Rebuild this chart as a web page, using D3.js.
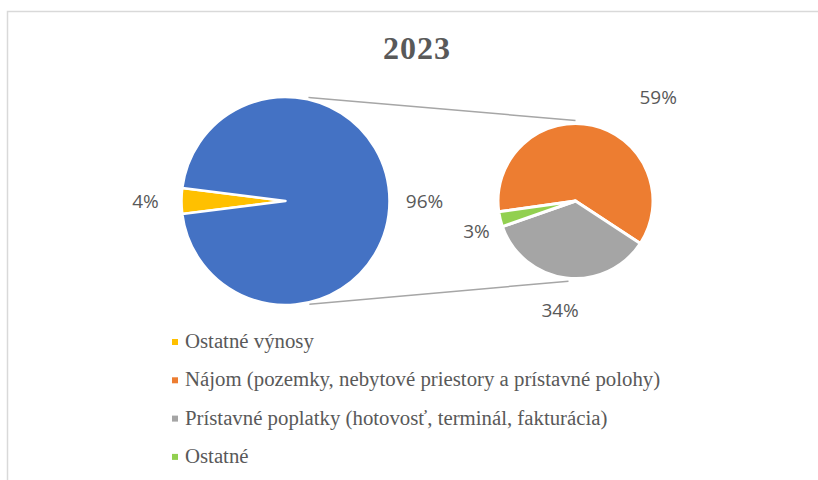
<!DOCTYPE html>
<html>
<head>
<meta charset="utf-8">
<script src="https://cdn.jsdelivr.net/npm/d3@7"></script>
<style>
  body { margin: 0; background: #ffffff; }
  svg { display: block; }
</style>
</head>
<body>
<svg id="chart" width="818" height="480"></svg>
<script>
// Main pie: "Ostatné výnosy" + the aggregated part split out into the second pie
const mainLabels = ["Ostatné výnosy", "Ostatné spolu"];
const mainValues = [4, 96];
const mainColors = ["#ffc000", "#4472c4"];

// Second pie (breakdown of the 96 %)
const subLabels = ["Nájom (pozemky, nebytové priestory a prístavné polohy)", "Prístavné poplatky (hotovosť, terminál, fakturácia)", "Ostatné"];
const subValues = [59, 34, 3];
const subColors = ["#ed7d31", "#a5a5a5", "#92d050"];

const legendLabels = [mainLabels[0]].concat(subLabels);
const legendColors = [mainColors[0]].concat(subColors);

const title = "2023";

const svg = d3.select("#chart");
const deg = Math.PI / 180;

// chart frame (right and bottom edges fall outside the picture)
svg.append("rect")
  .attr("x", 7.5).attr("y", 11.5)
  .attr("width", 840).attr("height", 500)
  .attr("fill", "#ffffff")
  .attr("stroke", "#d9d9d9")
  .attr("stroke-width", 1.5);

// Title
svg.append("text")
  .attr("x", 417)
  .attr("y", 59)
  .attr("text-anchor", "middle")
  .attr("font-family", "Liberation Serif, serif")
  .attr("font-weight", "bold")
  .attr("font-size", 32)
  .attr("letter-spacing", 1)
  .attr("fill", "#595959")
  .text(title);

const main = { cx: 285.5, cy: 201, r: 104 };
const sub = { cx: 575.5, cy: 201, r: 77.5 };

// yellow slice centred on the left side
const total = d3.sum(mainValues);
const mainStart = 270 * deg - (mainValues[0] / total) * Math.PI;
const mainPie = d3.pie().sort(null).value(d => d).startAngle(mainStart).endAngle(mainStart + 2 * Math.PI);
const subPie = d3.pie().sort(null).value(d => d).startAngle(-98 * deg).endAngle(262 * deg);

const mainArc = d3.arc().innerRadius(0).outerRadius(main.r);
const subArc = d3.arc().innerRadius(0).outerRadius(sub.r);

// point on a circle, angle measured clockwise from 12 o'clock
function onCircle(c, a, r) {
  return [c.cx + r * Math.sin(a), c.cy - r * Math.cos(a)];
}

// Connector lines between the two pies
const connectors = [
  [onCircle(main, 12.5 * deg, main.r + 2), onCircle(sub, 0, sub.r + 3)],
  [onCircle(main, 167 * deg, main.r + 2), onCircle(sub, 185 * deg, sub.r + 3)]
];
svg.selectAll(".connector")
  .data(connectors)
  .enter()
  .append("line")
  .attr("class", "connector")
  .attr("x1", d => d[0][0]).attr("y1", d => d[0][1])
  .attr("x2", d => d[1][0]).attr("y2", d => d[1][1])
  .attr("stroke", "#a6a6a6")
  .attr("stroke-width", 1.5);

const gMain = svg.append("g").attr("transform", `translate(${main.cx},${main.cy})`);
gMain.selectAll("path")
  .data(mainPie(mainValues))
  .enter()
  .append("path")
  .attr("d", mainArc)
  .attr("fill", (d, i) => mainColors[i])
  .attr("stroke", "#ffffff")
  .attr("stroke-width", 2.5)
  .attr("stroke-linejoin", "round");

const gSub = svg.append("g").attr("transform", `translate(${sub.cx},${sub.cy})`);
gSub.selectAll("path")
  .data(subPie(subValues))
  .enter()
  .append("path")
  .attr("d", subArc)
  .attr("fill", (d, i) => subColors[i])
  .attr("stroke", "#ffffff")
  .attr("stroke-width", 3)
  .attr("stroke-linejoin", "round");

// Data labels, placed outside the slices like Excel's best fit
const mainLabelPos = [[270, 36], [90, 35]];           // [angle deg, distance beyond radius]
const subLabelPos = [[38.6, 55], [188, 33], [253, 26]];

function addLabels(c, values, pos) {
  svg.append("g").selectAll("text")
    .data(values)
    .enter()
    .append("text")
    .attr("x", (d, i) => onCircle(c, pos[i][0] * deg, c.r + pos[i][1])[0])
    .attr("y", (d, i) => onCircle(c, pos[i][0] * deg, c.r + pos[i][1])[1])
    .attr("dy", "0.36em")
    .attr("text-anchor", "middle")
    .attr("font-family", "Open Sans, sans-serif")
    .attr("font-size", 19)
    .attr("fill", "#595959")
    .text(d => Math.round(d / total * 100) + "%");
}
addLabels(main, mainValues, mainLabelPos);
addLabels(sub, subValues, subLabelPos);

// Legend
const legend = svg.append("g").attr("transform", "translate(172, 342)");
const rowH = 38.3;
legend.selectAll("rect")
  .data(legendColors)
  .enter()
  .append("rect")
  .attr("x", 0)
  .attr("y", (d, i) => i * rowH - 3)
  .attr("width", 6)
  .attr("height", 6)
  .attr("fill", d => d);
legend.selectAll("text")
  .data(legendLabels)
  .enter()
  .append("text")
  .attr("x", 13)
  .attr("y", (d, i) => i * rowH + 6)
  .attr("font-family", "Liberation Serif, serif")
  .attr("font-size", 20.8)
  .attr("fill", "#595959")
  .text(d => d);
</script>
</body>
</html>
